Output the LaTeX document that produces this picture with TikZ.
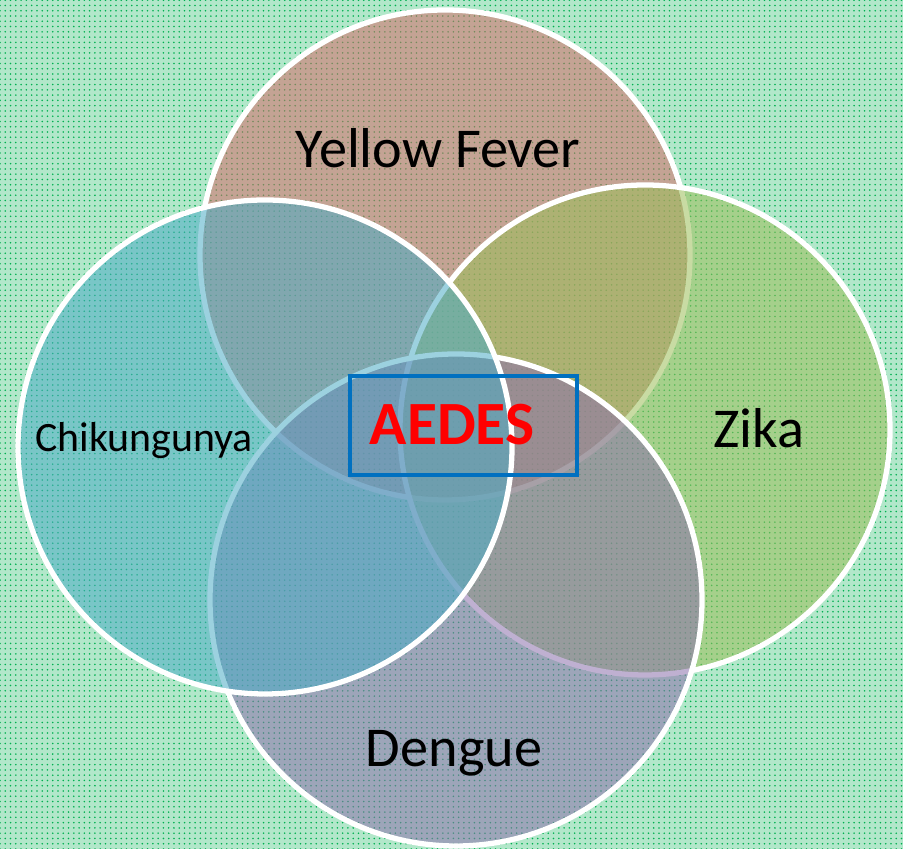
\documentclass[tikz,border=0pt]{standalone}
\usepackage{xcolor}
\usepackage{tikz}
\usetikzlibrary{patterns}
\usepackage{fontspec}
\setmainfont{Carlito}

\definecolor{fondoverde}{RGB}{0,176,80}
\definecolor{rojofiebre}{RGB}{212,108,104}
\definecolor{verdezika}{RGB}{155,190,89}
\definecolor{moradodengue}{RGB}{140,112,172}
\definecolor{azulchik}{RGB}{75,172,198}
\definecolor{azulcaja}{RGB}{0,112,192}

\tikzset{
    conjunto/.style = {draw = white, line width = 3pt, fill opacity = 0.55},
    etiqueta/.style = {anchor = base, inner sep = 0pt, font = \fontsize{32}{36}\selectfont}
}

\begin{document}
\begin{tikzpicture}
    % Dibujar el fondo punteado
    \fill[fondoverde!30] (0,0) rectangle (18.06,16.98);
    \fill[pattern = dots, pattern color = fondoverde] (0,0) rectangle (18.06,16.98);

    % Dibujar los conjuntos
    \draw[conjunto, fill = rojofiebre] (8.90,11.88) circle (4.90);    % Fiebre amarilla
    \draw[conjunto, fill = verdezika] (12.90,8.38) circle (4.90);     % Zika
    \draw[conjunto, fill = moradodengue] (9.12,4.98) circle (4.92);   % Dengue
    \draw[conjunto, fill = azulchik] (5.30,8.04) circle (4.94);       % Chikungunya

    % Nombres de los conjuntos
    \node[etiqueta] (fiebre) at (8.76,13.62) {Yellow Fever};
    \node[etiqueta] (zika) at (15.18,8.02) {Zika};
    \node[etiqueta] (dengue) at (9.08,1.64) {Dengue};
    \node[etiqueta, font = \fontsize{23.8}{28}\selectfont] (chik) at (2.88,7.94) {Chikungunya};

    % Recuadro del centro
    \draw[azulcaja, line width = 1.8pt] (7.00,7.48) rectangle (11.54,9.46);
    \node[etiqueta, text = red, font = \fontsize{35}{40}\selectfont\bfseries] (aedes) at (9.04,8.08) {AEDES};
\end{tikzpicture}
\end{document}
